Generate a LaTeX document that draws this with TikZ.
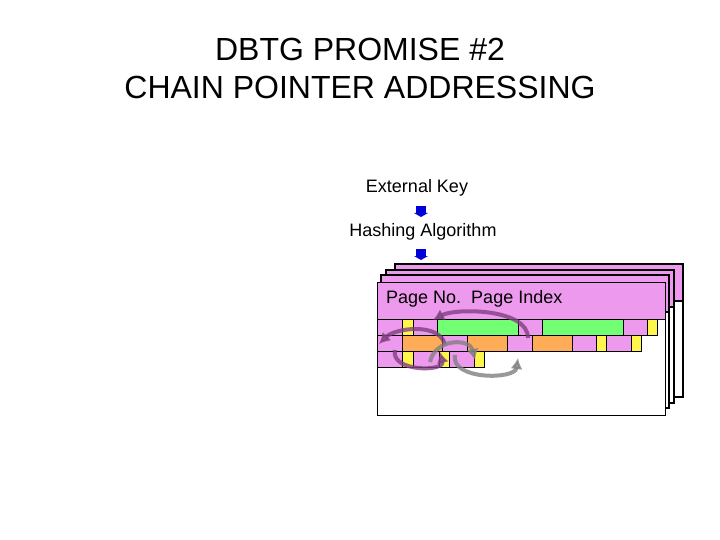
\documentclass[tikz,border=0pt]{standalone}
\usepackage{fontspec}
\setmainfont{Liberation Sans}
\usetikzlibrary{arrows.meta}
\begin{document}
\begin{tikzpicture}[x=1pt,y=-1pt,
  page/.style={draw=black,line width=1.2pt,fill=white},
  head/.style={draw=black,line width=1.2pt,fill=violet!35!magenta!40},
  pk/.style={draw=black,line width=1pt,fill=violet!35!magenta!40},
  gr/.style={draw=black,line width=1pt,fill=green!55},
  og/.style={draw=black,line width=1pt,fill=orange!65},
  yl/.style={draw=black,line width=1pt,fill=yellow!70},
  lbl/.style={font=\fontsize{18}{20}\selectfont,inner sep=0pt},
  loop/.style={line width=4pt,draw=violet!50!gray,opacity=0.8,-{Latex[length=11pt,width=12pt]}},
  bluearr/.style={fill=blue!85!black,draw=none}]
\useasboundingbox (0,0) rectangle (720,540);
\node[font=\fontsize{32}{36}\selectfont] (t1) at (360,49) {DBTG PROMISE \#2};
\node[font=\fontsize{32}{36}\selectfont] (t2) at (360,87) {CHAIN POINTER ADDRESSING};
\node[lbl] (ek) at (417,188) {External Key};
\node[lbl] (ha) at (423,232) {Hashing Algorithm};
\fill[bluearr] (416,206) rectangle (426,213);
\fill[bluearr] (414,213) -- (428,213) -- (421,217) -- cycle;
\fill[bluearr] (416,249) rectangle (426,256);
\fill[bluearr] (414,256) -- (428,256) -- (421,260) -- cycle;
% back pages
\foreach \dx/\dy in {18/-18,9/-12,4/-7}{
  \draw[page] (377+\dx,282+\dy) rectangle (665+\dx,415+\dy);
  \draw[head] (377+\dx,282+\dy) rectangle (665+\dx,319+\dy);
}
\node[page,minimum width=288,minimum height=133,inner sep=0pt,anchor=north west] (pg) at (377,282) {};
\node[head,minimum width=288,minimum height=37,inner sep=0pt,anchor=north west] (hd) at (377,282) {};
\node[lbl,anchor=west] (pn) at (386,299) {Page No.\ \ Page Index};
% row1
\foreach \a/\b/\s in {377/402/pk,402/413/yl,413/437/pk,437/518/gr,518/542/pk,542/623/gr,623/647/pk,647/657/yl}
  \draw[\s] (\a,319) rectangle (\b,335);
% row2
\foreach \a/\b/\s in {377/402/pk,402/442/og,442/467/pk,467/507/og,507/532/pk,532/572/og,572/596/pk,596/606/yl,606/631/pk,631/641/yl}
  \draw[\s] (\a,335) rectangle (\b,351);
% row3
\foreach \a/\b/\s in {377/402/pk,402/413/yl,413/439/pk,439/449/yl,449/474/pk,474/484/yl}
  \draw[\s] (\a,351) rectangle (\b,367);
% chain loops
\draw[loop] (528,338) .. controls (528,308) and (455,308) .. (433,320);
\draw[loop] (445,345) .. controls (440,322) and (395,328) .. (379,344);
\draw[loop] (395,350) .. controls (390,372) and (445,372) .. (440,352);
\draw[loop,draw=gray] (455,355) .. controls (450,380) and (515,380) .. (518,358);
\draw[loop,draw=gray] (430,362) .. controls (435,338) and (470,338) .. (475,360);
\end{tikzpicture}
\end{document}
